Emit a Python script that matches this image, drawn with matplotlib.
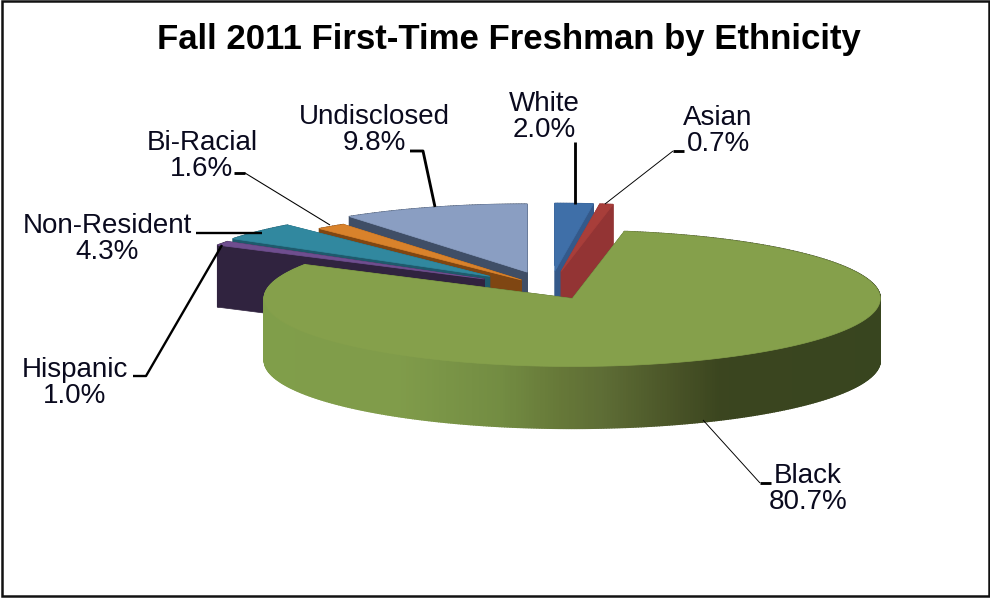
import numpy as np
import matplotlib
matplotlib.use("Agg")
import matplotlib.pyplot as plt
from matplotlib.patches import Polygon, Rectangle

plt.rcParams["font.family"] = ["Liberation Sans", "DejaVu Sans"]

TITLE = "Fall 2011 First-Time Freshman by Ethnicity"
categories = ["White", "Asian", "Black", "Hispanic", "Non-Resident", "Bi-Racial", "Undisclosed"]
values = [2.0, 0.7, 80.7, 1.0, 4.3, 1.6, 9.8]
explode = [0.245, 0.245, 0.17, 0.25, 0.26, 0.15, 0.245]
top_colors = ["#3F6FA8", "#A83E3A", "#85A04B", "#6F4E8F", "#31889F", "#D9822B", "#8A9EC2"]
side_colors = ["#34598A", "#933434", "#3A4520", "#30233F", "#1E5A6C", "#7F4612", "#3F4E66"]
draw_order = [6, 5, 4, 3, 0, 1, 2]

# everything below is laid out in image pixels
CX, CY, RX, RY, DEPTH = 550, 288, 308, 68, 62

# rim colour of the big slice by x, light at the left, dark from about x=720
RIM_X = [263, 400, 500, 560, 600, 680, 720, 880]
RIM_RGB = [(0.50, 0.62, 0.29), (0.50, 0.61, 0.29), (0.45, 0.55, 0.26), (0.40, 0.47, 0.22),
           (0.37, 0.43, 0.21), (0.28, 0.32, 0.15), (0.23, 0.27, 0.12), (0.22, 0.27, 0.12)]

label_pos = {
    "White": (544, 117), "Asian": (718, 131), "Black": (808, 489), "Hispanic": (75, 383),
    "Non-Resident": (107, 239), "Bi-Racial": (202, 156), "Undisclosed": (374, 130),
}
# (points, width) for leader lines
leaders = [
    ([(575, 142), (575, 204)], 2.4),
    ([(684, 151), (673, 151)], 2.4),
    ([(673, 151), (605, 204)], 0.8),
    ([(410, 151), (423, 151), (435, 207)], 2.4),
    ([(234, 173), (245, 173)], 2.4),
    ([(245, 173), (330, 225)], 0.9),
    ([(196, 233), (262, 233)], 2.0),
    ([(133, 376), (146, 376), (222, 245)], 2.0),
    ([(760, 483), (771, 483)], 2.4),
    ([(760, 483), (703, 420)], 0.8),
]


def draw_slice(ax, start, end, off, top, side, gradient=False):
    mid = (start + end) / 2
    ax0 = CX + off * RX * np.sin(mid)
    ay0 = CY - off * RY * np.cos(mid)
    t = np.linspace(start, end, max(int(np.degrees(end - start)) * 2, 6))
    xs = ax0 + RX * np.sin(t)
    ys = ay0 - RY * np.cos(t)

    for x, y in [(xs[0], ys[0]), (xs[-1], ys[-1])]:
        ax.add_patch(Polygon([(ax0, ay0), (x, y), (x, y + DEPTH), (ax0, ay0 + DEPTH)],
                             fc=side, ec=side, lw=0.5))
    for i in range(len(t) - 1):
        c = side
        if gradient:
            xm = (xs[i] + xs[i + 1]) / 2
            c = [np.interp(xm, RIM_X, [p[k] for p in RIM_RGB]) for k in range(3)]
        ax.add_patch(Polygon([(xs[i], ys[i]), (xs[i + 1], ys[i + 1]),
                              (xs[i + 1], ys[i + 1] + DEPTH), (xs[i], ys[i] + DEPTH)],
                             fc=c, ec=c, lw=1.0))
    ax.add_patch(Polygon(np.vstack([[ax0, ay0], np.column_stack([xs, ys])]),
                         fc=top, ec=top, lw=0.5))


def main():
    fig = plt.figure(figsize=(9.9, 5.98), dpi=100)
    ax = fig.add_axes([0, 0, 1, 1])
    ax.set_xlim(0, 990)
    ax.set_ylim(598, 0)
    ax.axis("off")

    ax.add_patch(Rectangle((1.5, 1), 987, 595, fc="white", ec="#111111", lw=1.8))

    edges = np.cumsum([0] + values) / sum(values) * 2 * np.pi
    for i in draw_order:
        draw_slice(ax, edges[i], edges[i + 1], explode[i], top_colors[i], side_colors[i],
                   gradient=categories[i] == "Black")

    for pts, w in leaders:
        px, py = zip(*pts)
        ax.plot(px, py, color="black", lw=w * 0.85, solid_capstyle="butt")

    ax.text(509, 39, TITLE, ha="center", va="center", fontsize=25, fontweight="bold", color="black")
    for name, v in zip(categories, values):
        x, y = label_pos[name]
        ax.text(x, y, f"{name}\n{v:.1f}%", ha="center", va="center", fontsize=20,
                linespacing=0.96, color="#0A0A1E")

    fig.savefig("out.png", dpi=100)


if __name__ == "__main__":
    main()
